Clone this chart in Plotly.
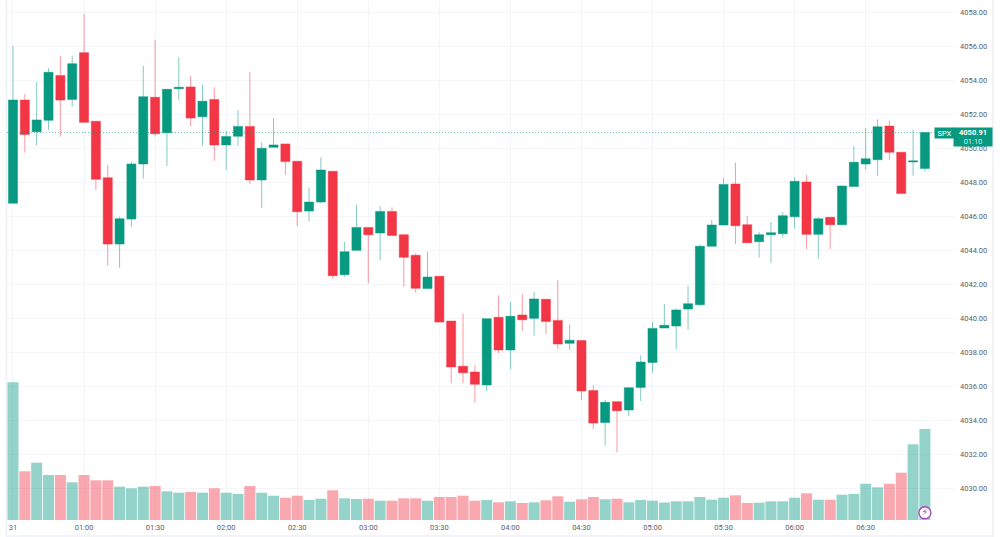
import pandas as pd
import plotly.graph_objects as go

# Five-minute SPX session, 00:30 to 06:55
times = [t.strftime("%H:%M") for t in pd.date_range("00:30", periods=78, freq="5min")]

opens = [4046.75, 4052.82, 4050.96, 4051.63, 4054.27, 4052.86, 4055.61, 4051.57, 4048.25, 4044.35,
         4045.82, 4049.06, 4052.98, 4050.90, 4053.49, 4053.59, 4051.84, 4052.86, 4050.18, 4050.69,
         4051.27, 4048.12, 4050.04, 4050.24, 4049.22, 4046.29, 4046.82, 4048.63, 4042.55, 4043.98,
         4045.33, 4045.00, 4046.27, 4044.90, 4043.69, 4041.73, 4042.45, 4039.82, 4037.16, 4036.82,
         4036.06, 4040.04, 4038.12, 4040.18, 4039.98, 4041.10, 4039.86, 4038.51, 4038.67, 4035.73,
         4033.86, 4035.08, 4034.59, 4035.92, 4037.39, 4039.41, 4039.53, 4040.53, 4040.78, 4044.22,
         4045.47, 4047.88, 4045.49, 4044.49, 4044.90, 4044.96, 4045.96, 4048.00, 4044.92, 4045.92,
         4045.49, 4047.73, 4049.06, 4049.31, 4051.29, 4049.75, 4049.18, 4048.80]
highs = [4056.00, 4053.18, 4053.88, 4054.69, 4055.41, 4055.41, 4057.88, 4051.57, 4049.00, 4045.96,
         4049.20, 4054.82, 4056.35, 4053.45, 4055.33, 4054.24, 4053.73, 4053.57, 4051.02, 4052.24,
         4054.47, 4050.33, 4051.76, 4050.24, 4049.22, 4047.69, 4049.45, 4048.63, 4044.47, 4046.67,
         4045.33, 4046.59, 4046.51, 4044.90, 4043.80, 4043.88, 4042.45, 4039.82, 4040.27, 4037.24,
         4039.96, 4041.33, 4040.94, 4041.41, 4041.51, 4041.10, 4042.24, 4039.61, 4038.67, 4036.04,
         4035.18, 4035.08, 4035.92, 4037.80, 4039.76, 4040.82, 4040.57, 4041.88, 4044.33, 4045.76,
         4048.24, 4049.14, 4046.00, 4045.06, 4045.65, 4046.24, 4048.29, 4048.41, 4045.92, 4045.92,
         4047.80, 4050.12, 4051.18, 4051.69, 4051.61, 4049.75, 4051.06, 4050.91]
lows = [4046.75, 4049.73, 4050.14, 4051.06, 4050.67, 4052.43, 4051.51, 4047.53, 4043.08, 4042.96,
        4045.37, 4048.20, 4050.67, 4048.94, 4052.82, 4051.29, 4050.12, 4049.25, 4048.71, 4050.12,
        4047.88, 4046.47, 4050.04, 4048.41, 4045.41, 4045.67, 4046.78, 4042.31, 4042.43, 4043.98,
        4042.04, 4043.41, 4044.86, 4041.84, 4041.49, 4041.73, 4039.76, 4036.16, 4036.16, 4035.02,
        4035.71, 4037.94, 4037.00, 4039.24, 4038.96, 4039.06, 4038.18, 4038.12, 4035.18, 4033.47,
        4032.49, 4032.08, 4034.24, 4035.12, 4036.78, 4039.41, 4038.16, 4039.31, 4040.71, 4044.22,
        4045.47, 4044.35, 4044.43, 4043.55, 4043.24, 4044.73, 4045.27, 4044.06, 4043.47, 4044.06,
        4045.49, 4047.73, 4048.73, 4048.37, 4049.29, 4047.33, 4048.37, 4048.63]
closes = [4052.82, 4050.80, 4051.65, 4054.45, 4052.82, 4054.96, 4051.51, 4048.16, 4044.35, 4045.84,
          4049.06, 4053.02, 4050.84, 4053.45, 4053.57, 4051.76, 4052.75, 4050.18, 4050.67, 4051.27,
          4048.12, 4049.98, 4050.18, 4049.20, 4046.25, 4046.82, 4048.71, 4042.49, 4043.90, 4045.33,
          4044.90, 4046.27, 4044.86, 4043.57, 4041.75, 4042.41, 4039.76, 4037.12, 4036.78, 4036.10,
          4039.96, 4038.12, 4040.10, 4039.90, 4041.12, 4039.80, 4038.47, 4038.69, 4035.71, 4033.82,
          4035.04, 4034.55, 4035.90, 4037.41, 4039.39, 4039.57, 4040.47, 4040.84, 4044.22, 4045.47,
          4047.86, 4045.43, 4044.43, 4044.90, 4045.02, 4046.02, 4048.04, 4044.92, 4045.84, 4045.49,
          4047.76, 4049.16, 4049.37, 4051.25, 4049.75, 4047.33, 4049.24, 4050.91]
volumes = [137.7, 48.7, 57.3, 45.0, 45.0, 37.7, 45.0, 39.7, 39.7, 33.3,
           31.7, 33.3, 34.0, 28.7, 27.3, 28.0, 27.3, 31.7, 27.3, 26.0,
           34.0, 27.3, 24.3, 22.3, 24.3, 20.0, 21.3, 29.7, 21.7, 21.0,
           21.3, 19.3, 19.3, 21.7, 21.7, 19.3, 23.0, 23.0, 24.3, 19.3,
           20.0, 17.7, 18.7, 17.0, 17.7, 19.7, 23.7, 18.3, 20.7, 23.0,
           20.7, 21.3, 17.7, 20.0, 19.3, 17.5, 18.7, 18.7, 23.0, 20.3,
           22.3, 24.7, 17.0, 17.3, 18.7, 18.7, 22.3, 26.7, 20.3, 20.3,
           25.3, 26.0, 36.3, 32.7, 36.3, 47.3, 75.7, 91.0]

price_ticks = list(range(4030, 4060, 2))
time_ticks = times[::6]
time_labels = ["31"] + time_ticks[1:]

symbol = "SPX"
countdown = "01:10"
last_price = closes[-1]

UP = "#089981"
DOWN = "#F23645"
GRID = "#F4F5F8"
FRAME = "#EEF0F6"
TEXT = "#5A5E69"
FONT = "Roboto"

# Plot area in window pixels
WIDTH, HEIGHT = 1000, 537
LEFT, RIGHT, BOTTOM = 6.5, 955, 521


def paper_x(px):
    return (px - LEFT) / (RIGHT - LEFT)


def paper_y(px):
    return (BOTTOM - px) / BOTTOM


bar_colors = [
    "rgba(8,153,129,0.43)" if c >= o else "rgba(242,54,69,0.43)"
    for o, c in zip(opens, closes)
]

fig = go.Figure()

# Volume pane shares the plot area and sits under the candles
fig.add_bar(
    x=times, y=volumes, marker=dict(color=bar_colors, line=dict(width=0)),
    yaxis="y", showlegend=False, hoverinfo="skip",
)

fig.add_candlestick(
    x=times, open=opens, high=highs, low=lows, close=closes, yaxis="y2",
    increasing=dict(fillcolor=UP, line=dict(color="rgba(8,153,129,0.5)", width=1)),
    decreasing=dict(fillcolor=DOWN, line=dict(color="rgba(242,54,69,0.5)", width=1)),
    whiskerwidth=0, showlegend=False,
)

# Session-break marker on the last bar
fig.add_scatter(
    x=[times[-1]], y=[7.3], yaxis="y", mode="markers+text",
    marker=dict(size=12, color="white", line=dict(color="#AB47BC", width=1.4)),
    text=["\u26a1"], textposition="middle center",
    textfont=dict(size=9, color="#9C27B0", family="DejaVu Sans"),
    showlegend=False, hoverinfo="skip",
)

fig.update_layout(
    width=WIDTH, height=HEIGHT,
    margin=dict(l=LEFT, r=WIDTH - RIGHT, t=0, b=HEIGHT - BOTTOM, autoexpand=False),
    paper_bgcolor="white", plot_bgcolor="white",
    font=dict(family=FONT, size=7.5, color=TEXT),
    bargap=0.07, boxgap=0.1, boxgroupgap=0.15,
    hovermode=False,
    xaxis=dict(
        type="category", categoryorder="array", categoryarray=times,
        range=[-0.506, 79.54], tickmode="array", tickvals=time_ticks, ticktext=time_labels,
        showgrid=True, gridcolor=GRID, gridwidth=1, ticks="", zeroline=False, showline=False,
        rangeslider=dict(visible=False), tickfont=dict(size=7.5, color=TEXT),
    ),
    yaxis=dict(
        range=[-1, 520], showgrid=False, showticklabels=False, zeroline=False, ticks="",
    ),
    yaxis2=dict(
        overlaying="y", side="right", range=[4028.06, 4058.706],
        tickmode="array", tickvals=price_ticks, tickformat=".2f",
        showgrid=True, gridcolor=GRID, gridwidth=1, zeroline=False, showline=False, ticks="",
        ticklabelstandoff=4, tickfont=dict(size=7.5, color=TEXT),
    ),
    shapes=[
        # Last-price line
        dict(type="line", xref="paper", yref="y2", x0=0, x1=paper_x(935),
             y0=last_price, y1=last_price,
             line=dict(color="rgba(8,153,129,0.6)", width=1, dash="1px,2px")),
        # Outer frame of the chart
        dict(type="rect", xref="paper", yref="paper",
             x0=paper_x(6), x1=paper_x(993), y0=paper_y(536), y1=paper_y(-2),
             line=dict(color=FRAME, width=1.5), fillcolor="rgba(0,0,0,0)", layer="below"),
    ],
    annotations=[
        dict(xref="paper", yref="y2", x=paper_x(944.5), y=last_price, xanchor="center",
             text=symbol, showarrow=False, width=19, height=10, borderpad=0, bgcolor=UP,
             font=dict(size=7.5, color="white", family=FONT)),
        dict(xref="paper", yref="y2", x=paper_x(973), y=last_price, xanchor="center", yshift=-4,
             text=f"<b>{last_price:.2f}</b><br><span style='color:#CDEBE6'>{countdown}</span>",
             showarrow=False, width=38, height=18, borderpad=0, bgcolor=UP, align="center",
             font=dict(size=7.5, color="white", family=FONT)),
    ],
)

fig.write_html("out.html")
